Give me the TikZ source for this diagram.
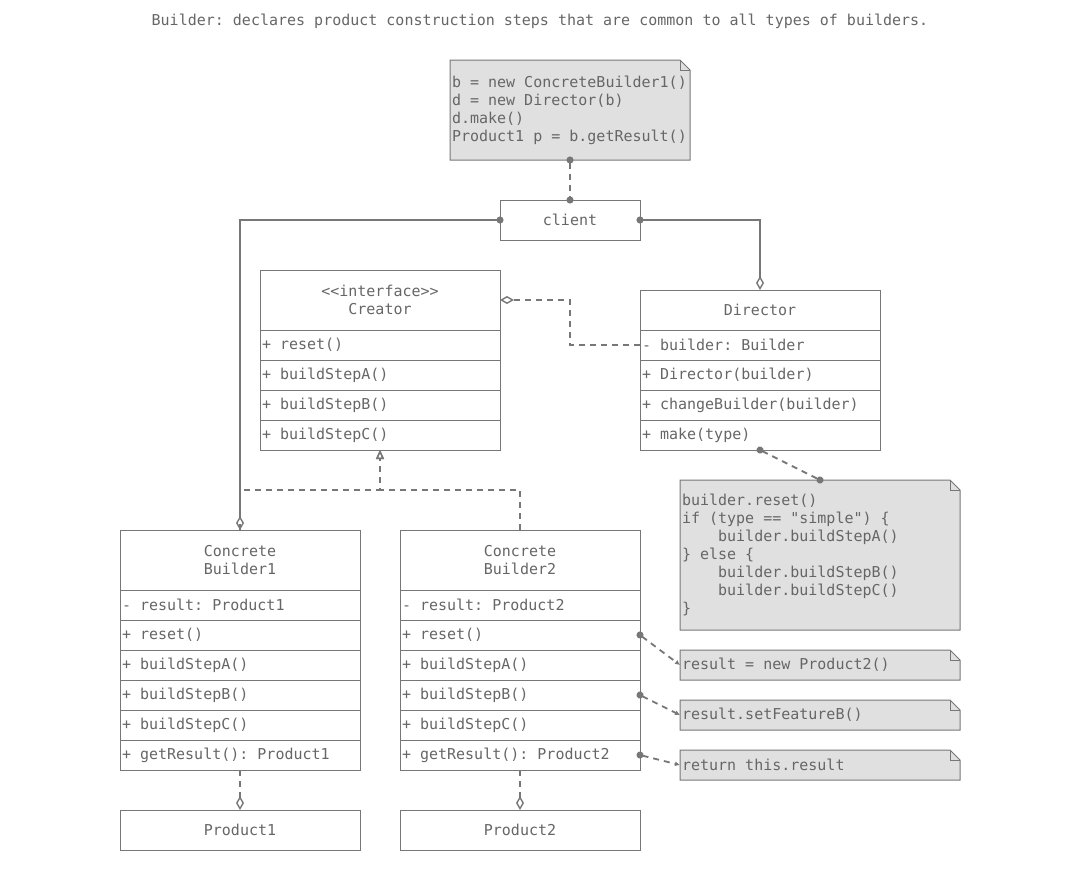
\documentclass[tikz,border=0pt]{standalone}
\usepackage{fontspec}
\setmonofont{DejaVu Sans Mono}
\usetikzlibrary{positioning, arrows.meta}
\definecolor{umlline}{HTML}{777777}
\definecolor{umltext}{HTML}{666666}
\definecolor{notegray}{HTML}{E0E0E0}

\begin{document}
\begin{tikzpicture}[
    x=1pt, y=-1pt,
    node distance=0pt,
    every node/.style={font=\ttfamily\fontsize{15}{18}\selectfont, text=umltext, outer sep=0pt},
    monospace/.style={execute at begin node={\spaceskip=\fontcharwd\font`0\relax\xspaceskip=\spaceskip}},
    classhead/.style={draw=umlline, line width=1pt, minimum width=240pt, minimum height=60pt, align=center, inner sep=2pt},
    member/.style={monospace, draw=umlline, line width=1pt, text width=236pt, minimum height=30pt, inner sep=2pt},
    plainbox/.style={draw=umlline, line width=1pt, minimum width=240pt, minimum height=40pt, inner sep=2pt},
    notebox/.style={monospace, fill=notegray, text width=276pt, inner sep=2pt},
    noteborder/.style={draw=umlline, line width=1pt},
    link/.style={draw=umlline, line width=1.8pt},
    dashlink/.style={link, dash pattern=on 6pt off 5pt},
    dotted start/.style={shorten <=-3.5pt},
    dotted end/.style={shorten >=-3.5pt},
    dot/.tip={Circle[length=7pt]},
    agg/.tip={Diamond[open, length=14pt, width=8pt, line width=1.4pt]},
    impl/.tip={Triangle[open, length=9pt, width=8pt, line width=1.4pt]}
]
   \useasboundingbox (0,0) rectangle (1081,871);

   % Title
   \node (title) at (540,21) {Builder: declares product construction steps that are common to all types of builders.};

   % Notes
   \node[notebox, text width=236pt, minimum height=100pt] (codenote) at (570,110)
      {b = new ConcreteBuilder1()\\d = new Director(b)\\d.make()\\Product1 p = b.getResult()};
   \node[notebox, minimum height=150pt] (makenote) at (820,555)
      {builder.reset()\\if (type == "simple") \{\\\phantom{0000}builder.buildStepA()\\\} else \{\\\phantom{0000}builder.buildStepB()\\\phantom{0000}builder.buildStepC()\\\}};
   \node[notebox, minimum height=30pt] (resetnote) at (820,665) {result = new Product2()};
   \node[notebox, minimum height=30pt] (featnote) at (820,715) {result.setFeatureB()};
   \node[notebox, minimum height=30pt] (resultnote) at (820,765) {return this.result};

   \foreach \n in {codenote, makenote, resetnote, featnote, resultnote} {
      \fill[white] ([xshift=-10pt]\n.north east) -- (\n.north east) -- ([yshift=-10pt]\n.north east) -- cycle;
      \draw[noteborder] (\n.north west) -- ([xshift=-10pt]\n.north east) -- ([yshift=-10pt]\n.north east)
         -- (\n.south east) -- (\n.south west) -- cycle;
      \draw[noteborder] ([xshift=-10pt]\n.north east) |- ([yshift=-10pt]\n.north east);
   }

   % Client
   \node[plainbox, minimum width=140pt] (client) at (570,220) {client};

   % Creator interface
   \node[classhead] (creator) at (380,300) {<<interface>>\\Creator};
   \node[member, below=of creator] (crReset) {+ reset()};
   \node[member, below=of crReset] (crStepA) {+ buildStepA()};
   \node[member, below=of crStepA] (crStepB) {+ buildStepB()};
   \node[member, below=of crStepB] (crStepC) {+ buildStepC()};

   % Director
   \node[classhead, minimum height=40pt] (director) at (760,310) {Director};
   \node[member, below=of director] (drBuilder) {- builder: Builder};
   \node[member, below=of drBuilder] (drCtor) {+ Director(builder)};
   \node[member, below=of drCtor] (drChange) {+ changeBuilder(builder)};
   \node[member, below=of drChange] (drMake) {+ make(type)};

   % Concrete builders
   \node[classhead] (cb1) at (240,560) {Concrete\\Builder1};
   \node[member, below=of cb1] (cb1Result) {- result: Product1};
   \node[member, below=of cb1Result] (cb1Reset) {+ reset()};
   \node[member, below=of cb1Reset] (cb1StepA) {+ buildStepA()};
   \node[member, below=of cb1StepA] (cb1StepB) {+ buildStepB()};
   \node[member, below=of cb1StepB] (cb1StepC) {+ buildStepC()};
   \node[member, below=of cb1StepC] (cb1Get) {+ getResult(): Product1};

   \node[classhead] (cb2) at (520,560) {Concrete\\Builder2};
   \node[member, below=of cb2] (cb2Result) {- result: Product2};
   \node[member, below=of cb2Result] (cb2Reset) {+ reset()};
   \node[member, below=of cb2Reset] (cb2StepA) {+ buildStepA()};
   \node[member, below=of cb2StepA] (cb2StepB) {+ buildStepB()};
   \node[member, below=of cb2StepB] (cb2StepC) {+ buildStepC()};
   \node[member, below=of cb2StepC] (cb2Get) {+ getResult(): Product2};

   % Products
   \node[plainbox] (prod1) at (240,830) {Product1};
   \node[plainbox] (prod2) at (520,830) {Product2};

   % Connectors
   \draw[dashlink, dot-dot, dotted start, dotted end] (codenote.south) -- (client.north);
   \draw[link, dot-agg, dotted start] (client.west) -| (cb1.north);
   \draw[link, dot-agg, dotted start] (client.east) -| (director.north);
   \draw[dashlink, -agg] (drBuilder.west) -- ++(-70,0) |- (creator.east);
   \draw[dashlink, -impl] (cb1.north) -- ++(0,-40) -| (crStepC.south);
   \draw[dashlink, -impl] (cb2.north) -- ++(0,-40) -| (crStepC.south);
   \draw[dashlink, dot-dot, dotted start, dotted end] (drMake.south) -- (makenote.north);
   \draw[dashlink, dot-{Latex[length=5pt, width=5pt]}, dotted start] (cb2Reset.east) -- (resetnote.west);
   \draw[dashlink, dot-{Latex[length=5pt, width=5pt]}, dotted start] (cb2StepB.east) -- (featnote.west);
   \draw[dashlink, dot-{Latex[length=5pt, width=5pt]}, dotted start] (cb2Get.east) -- (resultnote.west);
   \draw[dashlink, -agg] (cb1Get.south) -- (prod1.north);
   \draw[dashlink, -agg] (cb2Get.south) -- (prod2.north);

\end{tikzpicture}
\end{document}
